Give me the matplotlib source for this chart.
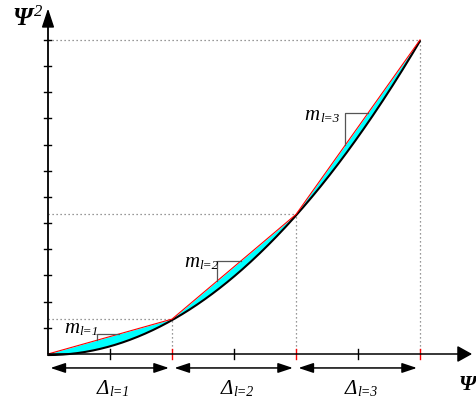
import numpy as np
import matplotlib.pyplot as plt

# breakpoints of the piecewise-linear approximation of psi^2
psi_knots = [0.0, 1.0, 2.0, 3.0]
psi2_knots = [0.0, 1.0, 4.0, 9.0]
mid_ticks = [0.5, 1.5, 2.5]
y_ticks = [0.75, 1.5, 2.25, 3.0, 3.75, 4.5, 5.25, 6.0, 6.75, 7.5, 8.25, 9.0]
seg_labels = ['l=1', 'l=2', 'l=3']
# slope triangles: (x of vertical leg, y of horizontal leg)
tri_x = [0.395, 1.36, 2.395]
tri_y = [0.573, 2.67, 6.91]

SERIF = 'Liberation Serif'


def sub_text(ax, x, y, main, sub, size=13, subsize=8, weight='normal', dy=-1.5):
    # main text ends at x, subscript starts there
    ax.text(x, y, main, ha='right', va='baseline', fontsize=size, family=SERIF,
            style='italic', weight=weight)
    ax.annotate(sub, (x, y), xytext=(0.3, dy), textcoords='offset points', ha='left',
                va='baseline', fontsize=subsize, family=SERIF, style='italic', weight=weight)


fig = plt.figure(figsize=(4.77, 3.98), dpi=100)
ax = fig.add_axes([0, 0, 1, 1])
ax.set_xlim(-48 / 124, 429 / 124)
ax.set_ylim(-44 / 34.9, 354 / 34.9)
ax.axis('off')

# dotted guides to each knot
dot = dict(color='#777777', lw=0.9, ls=(0, (1, 2.2)))
for xk, yk in zip(psi_knots[1:], psi2_knots[1:]):
    ax.plot([0, xk], [yk, yk], **dot)
    ax.plot([xk, xk], [0, yk], **dot)

# exact curve, chords and the area between them
psi = np.linspace(0, 3, 300)
chord = np.interp(psi, psi_knots, psi2_knots)
ax.fill_between(psi, psi ** 2, chord, color='#00ffff', lw=0)
ax.plot(psi, psi ** 2 - 0.03, color='black', lw=1.5, solid_capstyle='round')
ax.plot(psi_knots, psi2_knots, color='red', lw=0.8)

# slope triangles
for i, (tx, ty) in enumerate(zip(tri_x, tri_y)):
    x0, x1 = psi_knots[i], psi_knots[i + 1]
    y0, y1 = psi2_knots[i], psi2_knots[i + 1]
    m = (y1 - y0) / (x1 - x0)
    yc = y0 + m * (tx - x0)
    xc = x0 + (ty - y0) / m
    ax.plot([tx, tx, xc], [yc, ty, ty], color='#555555', lw=0.9)

# axes with arrow heads
ax.annotate('', xy=(0, 9.9), xytext=(0, 0),
            arrowprops=dict(arrowstyle='-|>,head_length=1.15,head_width=0.38', color='#444444',
                            lw=1.1, shrinkA=0, shrinkB=0, mutation_scale=10, fc='black', ec='black'))
ax.plot([0, 0], [0, 9.5], color='#555555', lw=1.3)
ax.annotate('', xy=(3.42, 0), xytext=(0, 0),
            arrowprops=dict(arrowstyle='-|>,head_length=0.9,head_width=0.5', color='black',
                            lw=1.1, shrinkA=0, shrinkB=0, mutation_scale=10))

for yt in y_ticks:
    ax.plot([-0.03, 0.025], [yt, yt], color='black', lw=1)
for xt in mid_ticks:
    ax.plot([xt, xt], [-0.14, 0.14], color='black', lw=1)
for xt in psi_knots[1:]:
    ax.plot([xt, xt], [-0.14, 0.14], color='red', lw=1)

# interval arrows and labels
for i, lab in enumerate(seg_labels):
    a, b = psi_knots[i], psi_knots[i + 1]
    ax.annotate('', xy=(b - 0.025, -0.4), xytext=(a + 0.02, -0.4),
                arrowprops=dict(arrowstyle='<|-|>,head_length=0.9,head_width=0.3', color='black',
                                lw=1.1, shrinkA=0, shrinkB=0, mutation_scale=10))
    sub_text(ax, (a + b) / 2 - 0.01, -1.15, 'Δ', lab, size=15, subsize=10)

m_pos = [(0.25, 0.60), (1.218, 2.49), (2.19, 6.70)]
for (mx, my), lab in zip(m_pos, seg_labels):
    sub_text(ax, mx, my, 'm', lab, size=15, subsize=9.5)

# axis titles
ax.text(-0.29, 9.43, 'Ψ', ha='left', va='baseline', fontsize=18, family=SERIF,
        style='italic', weight='bold')
ax.text(-0.115, 9.68, '2', ha='left', va='baseline', fontsize=12, family=SERIF,
        style='italic')
ax.text(3.315, -1.03, 'Ψ', ha='left', va='baseline', fontsize=16, family=SERIF,
        style='italic', weight='bold')

fig.savefig('out.png', dpi=100)
